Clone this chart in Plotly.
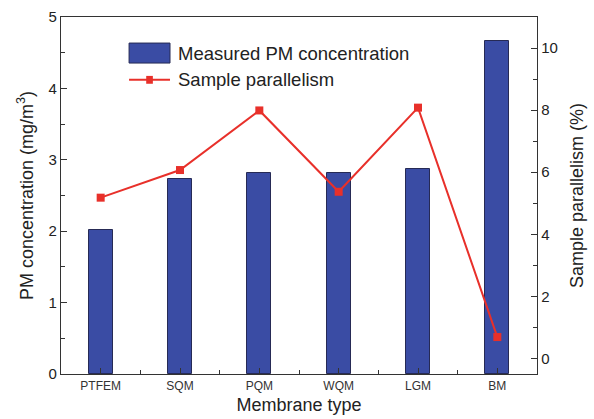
import plotly.graph_objects as go

categories = ["PTFEM", "SQM", "PQM", "WQM", "LGM", "BM"]
pm_concentration = [2.01, 2.73, 2.81, 2.82, 2.87, 4.66]
sample_parallelism = [5.18, 6.07, 7.99, 5.37, 8.08, 0.69]

x_pos = list(range(len(categories)))

BAR_COLOR = "#3A4CA4"
LINE_COLOR = "#E8302A"
FONT = "Liberation Sans, Arial, sans-serif"

fig = go.Figure()
fig.add_trace(go.Bar(
    x=x_pos, y=pm_concentration, width=0.3,
    marker=dict(color=BAR_COLOR, line=dict(color="#262A55", width=1)),
    name="Measured PM concentration", showlegend=False,
))
fig.add_trace(go.Scatter(
    x=x_pos, y=sample_parallelism, yaxis="y2", mode="lines+markers",
    line=dict(color=LINE_COLOR, width=2),
    marker=dict(symbol="square", size=8, color=LINE_COLOR),
    name="Sample parallelism", showlegend=False,
))

axis_common = dict(showline=True, linecolor="#333333", linewidth=1.3, showgrid=False,
                   zeroline=False, ticks="inside", tickcolor="#333333", ticklen=6,
                   automargin=False)

fig.update_layout(
    width=594, height=419,
    margin=dict(l=61, r=57, t=17, b=45),
    paper_bgcolor="white", plot_bgcolor="white",
    font=dict(family=FONT, color="#222222"),
    bargap=0,
    xaxis=dict(**axis_common, range=[-0.5, 5.5], tickvals=x_pos, ticktext=categories,
               tickfont=dict(size=12, color="#333333"), mirror=True,
               minor=dict(tickvals=[0.5, 1.5, 2.5, 3.5, 4.5], ticks="inside", ticklen=4, tickcolor="#333333"),
               title=dict(text="Membrane type", font=dict(size=18), standoff=6)),
    yaxis=dict(**axis_common, range=[0, 5], tickvals=[0, 1, 2, 3, 4, 5], tickfont=dict(size=15),
               minor=dict(dtick=0.5, ticks="inside", ticklen=4, tickcolor="#333333"),
               title=dict(text="PM concentration (mg/m<sup>3</sup>)", font=dict(size=18), standoff=10)),
    yaxis2=dict(**axis_common, overlaying="y", side="right", range=[-0.5, 11],
                tickvals=[0, 2, 4, 6, 8, 10], tickfont=dict(size=15),
                minor=dict(tickvals=[1, 3, 5, 7, 9], ticks="inside", ticklen=4, tickcolor="#333333"),
                title=dict(text="Sample parallelism (%)", font=dict(size=18), standoff=13)),
)

# Legend drawn manually to reproduce the wide swatches of the original
fig.add_shape(type="rect", xref="paper", yref="paper", x0=0.143, x1=0.229, y0=0.871, y1=0.927,
              fillcolor=BAR_COLOR, line=dict(color="#262A55", width=1))
fig.add_shape(type="line", xref="paper", yref="paper", x0=0.143, x1=0.229, y0=0.824, y1=0.824,
              line=dict(color=LINE_COLOR, width=2))
fig.add_shape(type="rect", xref="paper", yref="paper", x0=0.179, x1=0.193, y0=0.813, y1=0.835,
              fillcolor=LINE_COLOR, line=dict(width=0))
fig.add_annotation(xref="paper", yref="paper", x=0.241, y=0.899, xanchor="left", yanchor="middle",
                   text="Measured PM concentration", showarrow=False, font=dict(size=18.5, color="#222222"))
fig.add_annotation(xref="paper", yref="paper", x=0.241, y=0.824, xanchor="left", yanchor="middle",
                   text="Sample parallelism", showarrow=False, font=dict(size=18.5, color="#222222"))

fig.write_html("out.html", config={"displayModeBar": False},
               post_script="document.body.style.margin='0';")
